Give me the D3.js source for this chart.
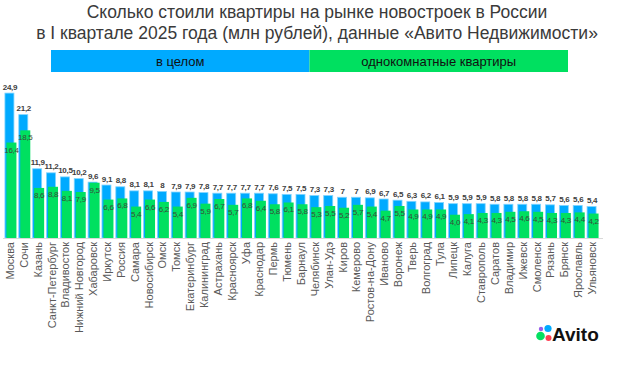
<!DOCTYPE html>
<html>
<head>
<meta charset="utf-8">
<script src="https://cdn.jsdelivr.net/npm/d3@7"></script>
<style>
  body { margin: 0; background: #fff; }
  svg { font-family: "Liberation Sans", Arial, sans-serif; }
</style>
</head>
<body>
<div id="container"></div>
<script>
const cities = ["Москва", "Сочи", "Казань", "Санкт-Петербург", "Владивосток", "Нижний Новгород", "Хабаровск",
  "Иркутск", "Россия", "Самара", "Новосибирск", "Омск", "Томск", "Екатеринбург", "Калининград", "Астрахань",
  "Красноярск", "Уфа", "Краснодар", "Пермь", "Тюмень", "Барнаул", "Челябинск", "Улан-Удэ", "Киров", "Кемерово",
  "Ростов-на-Дону", "Иваново", "Воронеж", "Тверь", "Волгоград", "Тула", "Липецк", "Калуга", "Ставрополь",
  "Саратов", "Владимир", "Ижевск", "Смоленск", "Рязань", "Брянск", "Ярославль", "Ульяновск"];

const total = [24.9, 21.2, 11.9, 11.2, 10.5, 10.2, 9.6, 9.1, 8.8, 8.1, 8.1, 8, 7.9, 7.9, 7.8, 7.7, 7.7, 7.7, 7.7,
  7.6, 7.5, 7.5, 7.3, 7.3, 7, 7, 6.9, 6.7, 6.5, 6.3, 6.2, 6.1, 5.9, 5.9, 5.9, 5.8, 5.8, 5.8, 5.8, 5.7, 5.6, 5.6, 5.4];

const oneRoom = [16.4, 18.5, 8.6, 8.8, 8.1, 7.9, 9.5, 6.6, 6.8, 5.4, 6.6, 6.2, 5.4, 6.9, 5.9, 6.7, 5.7, 6.8, 6.4,
  5.8, 6.1, 5.8, 5.3, 5.5, 5.2, 5.7, 5.4, 4.7, 5.5, 4.9, 4.9, 4.9, 4.0, 4.1, 4.3, 4.3, 4.5, 4.6, 4.5, 4.3, 4.3, 4.4, 4.2];

const seriesNames = ["в целом", "однокомнатные квартиры"];
const titleLines = ["Сколько стоили квартиры на рынке новостроек в России",
  "в I квартале 2025 года (млн рублей), данные «Авито Недвижимости»"];

const blue = "#00aaff", green = "#00e060";
const fmt = (v) => String(v).replace(".", ",");
const fmt1 = (v) => d3.format(".1f")(v).replace(".", ",");

const svg = d3.select("#container").append("svg").attr("width", 633).attr("height", 374);

// title
svg.selectAll(".title").data(titleLines).enter().append("text")
  .attr("x", 317).attr("y", (d, i) => 18 + i * 21)
  .attr("text-anchor", "middle").style("font-size", "17.5px").attr("fill", "#3a3a3a")
  .text((d) => d);

// legend band
const lx = d3.scaleBand().domain(seriesNames).range([51, 568]);
const leg = svg.selectAll(".leg").data(seriesNames).enter().append("g");
leg.append("rect").attr("x", (d) => lx(d)).attr("y", 50).attr("width", lx.bandwidth()).attr("height", 22)
  .attr("fill", (d, i) => i ? green : blue);
leg.append("text").attr("x", (d) => lx(d) + lx.bandwidth() / 2).attr("y", 65.5)
  .attr("text-anchor", "middle").style("font-size", "13px").attr("fill", "#111").text((d) => d);

const x = d3.scaleBand().domain(cities).range([3, 599]);
const y = d3.scaleLinear().domain([0, 25]).range([238, 92.5]);
const step = x.bandwidth();

const g = svg.append("g");

g.selectAll(".b").data(cities).enter().append("rect")
  .attr("x", (d) => x(d) + step / 2 - 5)
  .attr("y", (d, i) => y(total[i]))
  .attr("width", 9)
  .attr("height", (d, i) => y(0) - y(total[i]))
  .attr("fill", blue).attr("stroke", "#80d4ff").attr("stroke-width", 0.8);

g.selectAll(".gr").data(cities).enter().append("rect")
  .attr("x", (d) => x(d) + step / 2 - 3.5)
  .attr("y", (d, i) => y(oneRoom[i]))
  .attr("width", 10)
  .attr("height", (d, i) => y(0) - y(oneRoom[i]))
  .attr("fill", green);

// axis line
svg.append("line").attr("x1", 3).attr("x2", 603).attr("y1", 238.5).attr("y2", 238.5)
  .attr("stroke", "#d9d9d9").attr("stroke-width", 1);

// value labels
g.selectAll(".bl").data(cities).enter().append("text")
  .attr("x", (d) => x(d) + step / 2)
  .attr("y", (d, i) => y(total[i]) - 3.5)
  .attr("text-anchor", "middle").style("font-size", "8px").style("font-weight", "bold")
  .style("letter-spacing", "-0.3px")
  .attr("fill", "#404040").text((d, i) => fmt(total[i]));

g.selectAll(".gl").data(cities).enter().append("text")
  .attr("x", (d) => x(d) + step / 2 + 1.5)
  .attr("y", (d, i) => y(oneRoom[i]) + 10)
  .attr("text-anchor", "middle").style("font-size", "8px")
  .style("letter-spacing", "-0.3px")
  .attr("fill", "#3a4a3a").text((d, i) => fmt1(oneRoom[i]));

// category labels
g.selectAll(".cl").data(cities).enter().append("text")
  .attr("transform", (d) => `translate(${x(d) + step / 2 + 4},242) rotate(-90)`)
  .attr("text-anchor", "end").style("font-size", "11px").attr("fill", "#595959")
  .text((d) => d);

// Avito logo
const logo = svg.append("g");
logo.append("circle").attr("cx", 541).attr("cy", 329).attr("r", 2.2).attr("fill", "#965eeb");
logo.append("circle").attr("cx", 548).attr("cy", 328.5).attr("r", 3.6).attr("fill", "#00aaff");
logo.append("circle").attr("cx", 540.5).attr("cy", 336).attr("r", 4.3).attr("fill", "#04e061");
logo.append("circle").attr("cx", 548.5).attr("cy", 338).attr("r", 3).attr("fill", "#ff4053");
logo.append("text").attr("x", 552).attr("y", 341).style("font-size", "19px").style("font-weight", "bold")
  .attr("fill", "#111").text("Avito");
</script>
</body>
</html>
